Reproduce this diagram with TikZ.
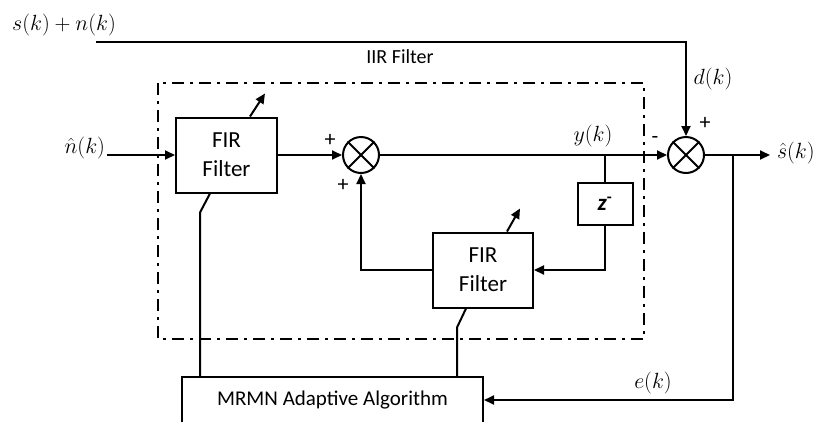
\RequirePackage{fix-cm}
\documentclass[tikz,border=0pt]{standalone}
\usepackage{fontspec}
\setmainfont{Carlito}
\usetikzlibrary{arrows.meta,calc}
\begin{document}
\begin{tikzpicture}[x=1pt,y=-1pt,
  line width=2pt,
  arr/.style={-{Triangle[length=10pt,width=9pt]}},
  blk/.style={draw,rectangle,align=center,inner sep=0pt,font=\fontsize{23}{29}\selectfont},
  summ/.style={draw,circle,minimum size=36pt,inner sep=0pt},
  lbl/.style={inner sep=0pt,font=\fontsize{20}{22}\selectfont},
  mlbl/.style={inner sep=0pt,font=\fontsize{22}{24}\selectfont},
  sgn/.style={inner sep=0pt,font=\fontsize{22}{24}\selectfont}]
\useasboundingbox (0,0) rectangle (817,421);
% frame
\draw[line width=2.5pt,dash pattern=on 12pt off 6pt on 3pt off 6pt] (158,83) rectangle (644,339);
% blocks
\node[blk,minimum width=101pt,minimum height=75pt] (fir1) at (226.5,155) {FIR\\Filter};
\node[blk,minimum width=100pt,minimum height=75pt] (fir2) at (483,270) {FIR\\Filter};
\node[blk,minimum width=55pt,minimum height=42pt] (zb) at (605,204) {{\bfseries\itshape z}\textsuperscript{\bfseries -}};
\node[blk,minimum width=301pt,minimum height=46pt,font=\fontsize{21}{22}\selectfont] (mrmn) at (332.5,400) {MRMN Adaptive Algorithm};
\node[summ] (s1) at (361,155) {};
\node[summ] (s2) at (686,155) {};
\foreach \s in {s1,s2}{
  \draw (\s.45) -- (\s.225);
  \draw (\s.135) -- (\s.-45);
}
% coordinates
\coordinate (sn) at (96,42);
\coordinate (nin) at (107,155);
\coordinate (out) at (770,155);
\coordinate (br) at (733,155);
\coordinate (tap) at (605,155);
% labels
\node[mlbl,anchor=base] (lsn) at (64,30) {$s(k)+n(k)$};
\node[lbl,anchor=base] (liir) at (400,63) {IIR Filter};
\node[mlbl,anchor=base east] (lnin) at (106,153) {$\hat{n}(k)$};
\node[mlbl,anchor=base] (ly) at (593,141) {$y(k)$};
\node[mlbl,anchor=base] (ld) at (713,84) {$d(k)$};
\node[mlbl,anchor=base] (le) at (653,388) {$e(k)$};
\node[mlbl,anchor=west] (lout) at (776,153) {$\hat{s}(k)$};
\node[sgn] (p1) at (330,140) {+};
\node[sgn] (p2) at (343,185) {+};
\node[sgn] (m1) at (655,140) {-};
\node[sgn] (p3) at (705,123) {+};
% connectors
\draw[arr] (sn) -- (sn -| s2) -- (s2.north);
\draw[arr] (nin) -- (fir1.west);
\draw[arr] (fir1.east) -- (s1.west);
\draw[arr] (s1.east) -- (s2.west);
\draw[arr] (s2.east) -- (out);
\draw[arr] (br) |- (mrmn.east);
\draw (tap) -- (zb.north);
\draw[arr] (zb.south) |- (fir2.east);
\draw[arr] (fir2.west) -| (s1.south);
% adaptation arrows
\draw[arr] ([xshift=23.5pt]fir1.north) -- ++(15,-23);
\draw[arr] ([xshift=24pt]fir2.north) -- ++(13,-23);
% control lines
\coordinate (a1) at ([xshift=-16.5pt]fir1.south);
\draw (a1) -- ++(-10,19) coordinate (a1b) -- (a1b |- mrmn.north);
\coordinate (a2) at ([xshift=-17pt]fir2.south);
\draw (a2) -- ++(-9,19) coordinate (a2b) -- (a2b |- mrmn.north);
\end{tikzpicture}
\end{document}
